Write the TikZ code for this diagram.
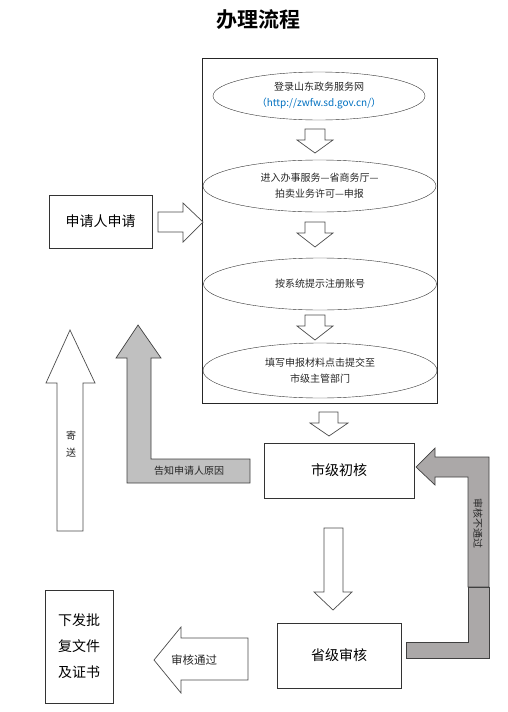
\documentclass[tikz,border=0pt]{standalone}
\usepackage{fontspec}
\setmainfont{Noto Sans CJK SC}[BoldFont={Noto Sans CJK SC Bold}]
\usetikzlibrary{shapes.geometric}
\definecolor{urlblue}{RGB}{0,112,192}
\definecolor{backgray}{RGB}{192,192,192}
\definecolor{failgray}{RGB}{171,168,168}
\tikzset{
  flowell/.style={draw=black!80, ellipse, inner sep=0pt, align=center, text=black!85, font=\fontsize{10}{16}\selectfont},
  stepbox/.style={draw=black!80, rectangle, inner sep=0pt, align=center, font=\fontsize{14}{26}\selectfont},
  blockw/.style={draw=black!70, fill=white, line width=0.7pt},
  blockg/.style={draw=black!75, line width=0.7pt},
  arrowtext/.style={inner sep=0pt, align=center, text=black!85, font=\fontsize{10}{17}\selectfont}
}
\begin{document}
\begin{tikzpicture}[x=1pt,y=-1pt]
\useasboundingbox (0,0) rectangle (508,712);
\node[font=\fontsize{21}{24}\selectfont\bfseries] (title) at (258,20){办理流程};
% online part
\node[draw=black!85, line width=0.7pt, minimum width=235pt, minimum height=345pt, inner sep=0pt] (frame) at (319.5,230.5){};
\node[flowell, minimum width=212pt, minimum height=48pt] (login) at (319,96){登录山东政务服务网\\\textcolor{urlblue}{（http://zwfw.sd.gov.cn/）}};
\node[flowell, minimum width=233pt, minimum height=52pt] (enter) at (319.5,186){进入办事服务—省商务厅—\\拍卖业务许可—申报};
\node[flowell, minimum width=233pt, minimum height=52pt] (account) at (320,284){按系统提示注册账号};
\node[flowell, minimum width=234pt, minimum height=55pt] (submit) at (320,370.5){填写申报材料点击提交至\\市级主管部门};
\draw[blockw] (305,129) -- (325,129) -- (325,140) -- (333,140) -- (315,153) -- (297,140) -- (305,140) -- cycle;
\draw[blockw] (305,222) -- (325,222) -- (325,233) -- (333,233) -- (315,247) -- (297,233) -- (305,233) -- cycle;
\draw[blockw] (305,315) -- (325,315) -- (325,326) -- (333,326) -- (315,340) -- (297,326) -- (305,326) -- cycle;
% applicant
\node[stepbox, minimum width=103pt, minimum height=53pt] (apply) at (100.5,221.5){申请人申请};
\draw[blockw] (158,212) -- (183,212) -- (183,203) -- (203,222) -- (183,242) -- (183,232) -- (158,232) -- cycle;
% review
\draw[blockw] (319,412) -- (338,412) -- (338,423) -- (348,423) -- (329,436) -- (310,423) -- (319,423) -- cycle;
\node[stepbox, minimum width=150pt, minimum height=55pt] (city) at (339,470.5){市级初核};
\draw[blockw] (324,528) -- (343,528) -- (343,592) -- (352,592) -- (333,610) -- (314,592) -- (324,592) -- cycle;
\node[stepbox, minimum width=124pt, minimum height=65pt] (province) at (339,655.5){省级审核};
\draw[blockw] (154,660) -- (181,627) -- (181,638) -- (248,638) -- (248,680) -- (181,680) -- (181,693) -- cycle;
\node[arrowtext, font=\fontsize{11.5}{14}\selectfont] (pass) at (194,660){审核通过};
\node[stepbox, minimum width=68pt, minimum height=113pt] (issue) at (79,646.5){下发批\\复文件\\及证书};
% back arrows
\draw[blockw] (70,330) -- (95,383) -- (83,383) -- (83,531) -- (57,531) -- (57,383) -- (46,383) -- cycle;
\node[arrowtext] (mail) at (71,444){寄\\送};
\draw[blockg, fill=backgray] (138,325) -- (161,358) -- (151,358) -- (151,459) -- (250,459) -- (250,483) -- (127,483) -- (127,358) -- (116,358) -- cycle;
\node[arrowtext] (reason) at (189,471){告知申请人原因};
\draw[blockg, fill=failgray] (416,467) -- (435,448) -- (435,457) -- (489,457) -- (489,587) -- (468,587) -- (468,477) -- (435,477) -- (435,485) -- cycle;
\draw[blockg, fill=failgray] (406,642) -- (468,642) -- (468,587) -- (489,587) -- (489,658) -- (406,658) -- cycle;
\node[arrowtext, rotate=-90] (fail) at (478,523){审核不通过};
\end{tikzpicture}
\end{document}
